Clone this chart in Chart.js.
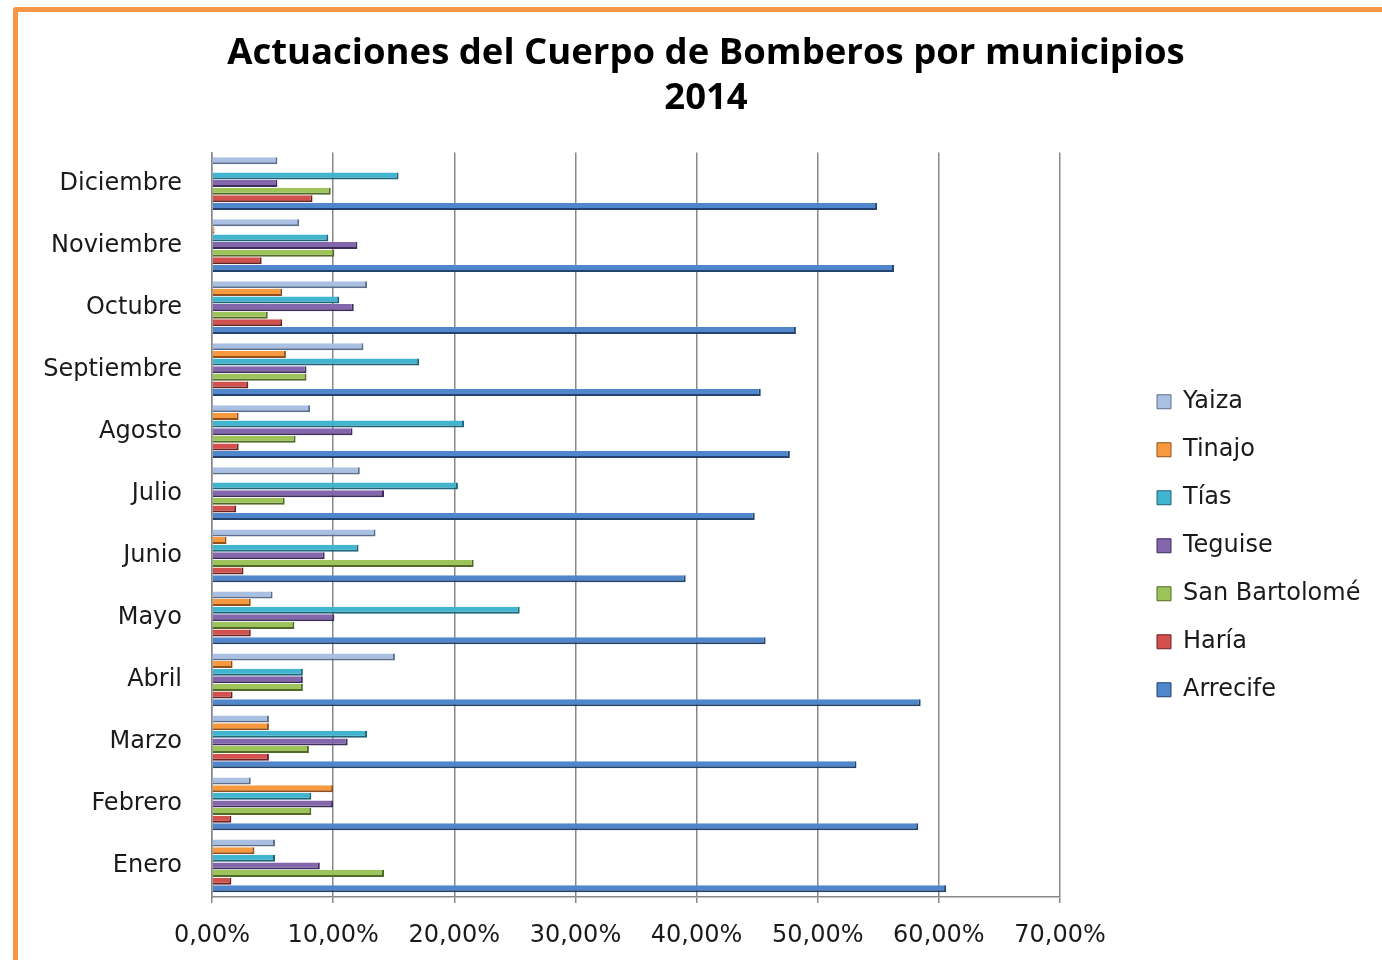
<!DOCTYPE html>
<html lang="es">
<head>
<meta charset="utf-8">
<title>Actuaciones del Cuerpo de Bomberos por municipios 2014</title>
<script src="https://cdn.jsdelivr.net/npm/chart.js@4.4.1/dist/chart.umd.min.js"></script>
<style>
  html, body { margin: 0; padding: 0; background: #fff; }
  body { width: 1382px; height: 960px; position: relative; overflow: hidden; }
  /* marco naranja del gráfico */
  .frame {
    position: absolute; left: 13px; top: 7px; width: 1400px; height: 1000px;
    border: 5px solid #F79646; border-radius: 3px; background: #fff;
  }
  #chart { position: absolute; left: 0; top: 0; }
</style>
</head>
<body>
<div class="frame"></div>
<canvas id="chart" width="1382" height="960"></canvas>
<script>
// meses (de abajo hacia arriba en el gráfico)
const months = ['Enero', 'Febrero', 'Marzo', 'Abril', 'Mayo', 'Junio', 'Julio',
  'Agosto', 'Septiembre', 'Octubre', 'Noviembre', 'Diciembre'];

// porcentaje de actuaciones por municipio, Enero..Diciembre
const yaiza        = [5.2, 3.2, 4.7, 15.1, 5.0, 13.5, 12.2, 8.1, 12.5, 12.8, 7.2, 5.4];
const tinajo       = [3.5, 10.0, 4.7, 1.7, 3.2, 1.2, 0, 2.2, 6.1, 5.8, 0.2, 0];
const tias         = [5.2, 8.2, 12.8, 7.5, 25.4, 12.1, 20.3, 20.8, 17.1, 10.5, 9.6, 15.4];
const teguise      = [8.9, 10.0, 11.2, 7.5, 10.1, 9.3, 14.2, 11.6, 7.8, 11.7, 12.0, 5.4];
const sanBartolome = [14.2, 8.2, 8.0, 7.5, 6.8, 21.6, 6.0, 6.9, 7.8, 4.6, 10.1, 9.8];
const haria        = [1.6, 1.6, 4.7, 1.7, 3.2, 2.6, 2.0, 2.2, 3.0, 5.8, 4.1, 8.3];
const arrecife     = [60.6, 58.3, 53.2, 58.5, 45.7, 39.1, 44.8, 47.7, 45.3, 48.2, 56.3, 54.9];

const xTicks = [0, 10, 20, 30, 40, 50, 60, 70];

// nombre, datos, relleno, borde (efecto bisel)
const series = [
  ['Yaiza', yaiza, '#A9C0E2', '#5A6E8E'],
  ['Tinajo', tinajo, '#F6993F', '#94501A'],
  ['Tías', tias, '#41B4D0', '#1F6477'],
  ['Teguise', teguise, '#8466AD', '#3E2D5B'],
  ['San Bartolomé', sanBartolome, '#9DC35B', '#526A29'],
  ['Haría', haria, '#D2504D', '#6C2121'],
  ['Arrecife', arrecife, '#4F86CC', '#23426E']
];

const FONT = 'DejaVu Sans';

// mueve la leyenda a la derecha dejando hueco tras el 70%
const legendGap = {
  id: 'legendGap',
  beforeLayout(chart) {
    const lg = chart.legend;
    if (lg && !lg._gapPatched) {
      const fit = lg.fit;
      lg.fit = function () {
        fit.call(this);
        this.width = 322;
      };
      lg._gapPatched = true;
    }
  },
  afterLayout(chart) {
    const lg = chart.legend;
    lg.left = chart.chartArea.right + 73;
    lg.top += 21;
    lg.bottom += 21;
  }
};

new Chart(document.getElementById('chart'), {
  type: 'bar',
  data: {
    labels: months,
    datasets: series.map(([name, data, fill, edge]) => ({
      label: name,
      data: data,
      backgroundColor: fill,
      borderColor: edge,
      borderWidth: { top: 0, left: 0, right: 2, bottom: 2 },
      borderSkipped: false,
      categoryPercentage: 0.86,
      barPercentage: 0.92
    }))
  },
  options: {
    indexAxis: 'y',
    responsive: false,
    animation: false,
    layout: { padding: { left: 30, right: 0, top: 0, bottom: 0 } },
    plugins: {
      title: {
        display: true,
        text: ['Actuaciones del Cuerpo de Bomberos por municipios', '2014'],
        color: '#000',
        font: { family: 'Open Sans', size: 36.5, weight: 'bold', lineHeight: 1.24 },
        padding: { top: 31, bottom: 31 }
      },
      legend: {
        position: 'right',
        fullSize: false,
        align: 'center',
        labels: {
          color: '#1a1a1a',
          font: { family: FONT, size: 24 },
          boxWidth: 14,
          boxHeight: 14,
          padding: 24
        }
      },
      tooltip: { enabled: false }
    },
    scales: {
      x: {
        min: 0,
        max: 70,
        afterFit: s => { s.height = 63; },
        afterBuildTicks: s => { s.ticks = xTicks.map(v => ({ value: v })); },
        ticks: {
          color: '#1a1a1a',
          font: { family: FONT, size: 24 },
          padding: 18,
          maxRotation: 0,
          callback: v => v.toFixed(2).replace('.', ',') + '%'
        },
        grid: { color: '#888', lineWidth: 1.5, tickLength: 6 },
        border: { color: '#888', width: 1.5 }
      },
      y: {
        reverse: true,
        afterFit: s => { s.width = 182; },
        ticks: {
          color: '#1a1a1a',
          font: { family: FONT, size: 24 },
          padding: 22
        },
        grid: { display: false },
        border: { color: '#888', width: 1.5 }
      }
    }
  },
  plugins: [legendGap]
});
</script>
</body>
</html>
